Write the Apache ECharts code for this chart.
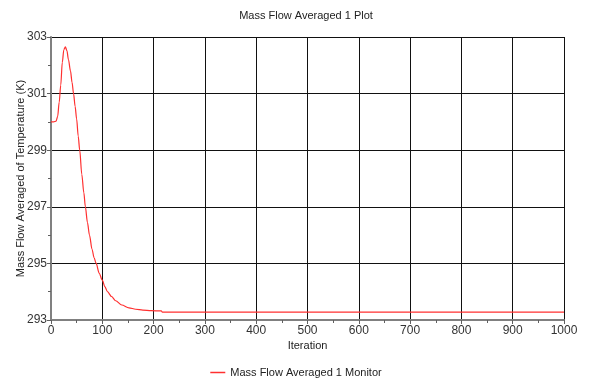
<!DOCTYPE html>
<html><head><meta charset="utf-8">
<script src="https://cdn.jsdelivr.net/npm/echarts@6/dist/echarts.min.js"></script>
<style>html,body{margin:0;padding:0;background:#fff}#c{width:592px;height:378px}</style>
</head><body><div id="c"></div>
<script>
const iterations = [0,5,10,13,16,19,22,25,28,31,34,38,41,44,47,50,53,56,60,64,67,71,75,80,84,88,94,100,105,110,118,126,138,152,165,179,195,215,217,300,400,500,600,700,800,900,1000];
const temperature = [300.0,300.0,300.03,300.2,300.7,301.3,302.1,302.55,302.65,302.52,302.2,301.8,301.4,301.0,300.55,300.1,299.5,299.0,298.15,297.5,297.0,296.45,296.0,295.5,295.2,295.0,294.65,294.41,294.18,294.0,293.83,293.68,293.53,293.43,293.38,293.35,293.33,293.32,293.28,293.28,293.28,293.28,293.28,293.28,293.28,293.28,293.28];
const xTicks = {min:0,max:1000,interval:100};
const yTicks = {min:293,max:303,interval:2};
const titleText = 'Mass Flow Averaged 1 Plot';
const seriesName = 'Mass Flow Averaged 1 Monitor';
const xName = 'Iteration';
const yName = 'Mass Flow Averaged of Temperature (K)';

const font = 'Liberation Sans, Arial, sans-serif';
const chart = echarts.init(document.getElementById('c'));
chart.setOption({
  animation:false,
  backgroundColor:'#fff',
  title:{text:titleText,left:301,top:5,textAlign:'center',textStyle:{fontFamily:font,fontSize:11,fontWeight:'normal',color:'#222'}},
  grid:{left:51,right:28,top:37,bottom:58},
  legend:{top:362,left:'center',icon:'path://M0,0 L20,0 L20,2 L0,2 Z',itemWidth:15,itemHeight:2,itemGap:5,
    textStyle:{fontFamily:font,fontSize:11,color:'#222'},data:[seriesName]},
  xAxis:{type:'value',min:xTicks.min,max:xTicks.max,interval:xTicks.interval,
    name:xName,nameLocation:'middle',nameGap:20,nameMoveOverlap:false,nameTextStyle:{fontFamily:font,fontSize:11,color:'#222'},
    axisLine:{show:true,lineStyle:{color:'#808080',width:2}},
    axisTick:{show:true,length:4,lineStyle:{color:'#606060',width:1}},
    minorTick:{show:true,splitNumber:2,length:3,lineStyle:{color:'#606060',width:1}},
    axisLabel:{fontFamily:font,fontSize:12,color:'#333',margin:5,formatter:v=>String(v)},
    splitLine:{show:true,lineStyle:{color:'#111',width:1}}},
  yAxis:{type:'value',min:yTicks.min,max:yTicks.max,interval:yTicks.interval,
    name:yName,nameLocation:'middle',nameGap:25,nameMoveOverlap:false,nameTextStyle:{fontFamily:font,fontSize:11,color:'#222'},
    axisLine:{show:true,lineStyle:{color:'#808080',width:2}},
    axisTick:{show:true,length:4,lineStyle:{color:'#606060',width:1}},
    minorTick:{show:true,splitNumber:2,length:3,lineStyle:{color:'#606060',width:1}},
    axisLabel:{fontFamily:font,fontSize:12,color:'#333',margin:4,formatter:v=>String(v)},
    splitLine:{show:true,lineStyle:{color:'#111',width:1}}},
  series:[{name:seriesName,type:'line',showSymbol:false,smooth:0.3,smoothMonotone:'x',
    data:iterations.map((x,i)=>[x,temperature[i]]),
    lineStyle:{color:'#ff3030',width:1.2},itemStyle:{color:'#ff3030'}}]
});
</script></body></html>
